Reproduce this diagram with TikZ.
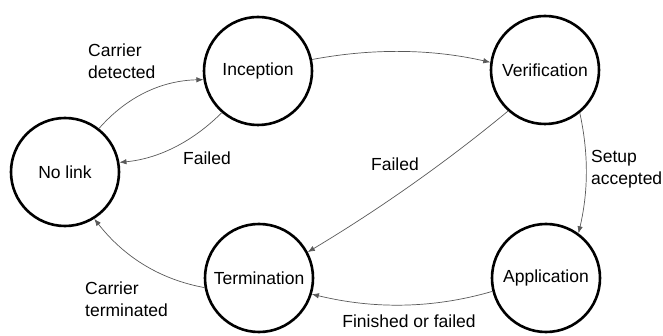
\documentclass[tikz,border=0pt]{standalone}
\usepackage{fontspec}
\setmainfont{Liberation Sans}
\usetikzlibrary{arrows.meta}
\begin{document}
\begin{tikzpicture}[x=1pt,y=-1pt,
  state/.style={circle,draw=black,line width=2.6pt,minimum size=108pt,inner sep=0pt,font=\fontsize{17.5}{22}\selectfont},
  trans/.style={draw=black!65,line width=0.7pt,-{Latex[length=7pt,width=5.5pt]}},
  lbl/.style={inner sep=0pt,font=\fontsize{17.5}{22}\selectfont,align=left}]
\useasboundingbox (0,0) rectangle (663,336);
\node[state] (nolink) at (65,172) {No link};
\node[state] (incep) at (258,71) {Inception};
\node[state] (verif) at (545,70) {Verification};
\node[state] (term) at (259,278) {Termination};
\node[state] (appl) at (546,278) {Application};
% transitions
\draw[trans] (nolink.52) .. controls (127,96.6) and (161.5,80.6) .. (incep.189);
\draw[trans] (incep.229) .. controls (191.5,142.8) and (157.5,158.8) .. (nolink.10);
\draw[trans] (incep.12) .. controls (373,48) and (432,49) .. (verif.172);
\draw[trans] (verif.228) .. controls (443.7,164.2) and (377,210.6) .. (term.28);
\draw[trans] (verif.309) .. controls (589,155) and (588,193) .. (appl.54);
\draw[trans] (appl.194) .. controls (432,309) and (373,309) .. (term.343);
\draw[trans] (term.190) .. controls (160.7,279.6) and (124.7,257.6) .. (nolink.302);
% labels
\node[lbl,anchor=west] (l1) at (88,61) {Carrier\\detected};
\node[lbl] (l2) at (207,158) {Failed};
\node[lbl] (l3) at (395,164) {Failed};
\node[lbl,anchor=west] (l4) at (591,169) {Setup\\accepted};
\node[lbl,anchor=west] (l5) at (85,299) {Carrier\\terminated};
\node[lbl] (l6) at (409,321) {Finished or failed};
\end{tikzpicture}
\end{document}
